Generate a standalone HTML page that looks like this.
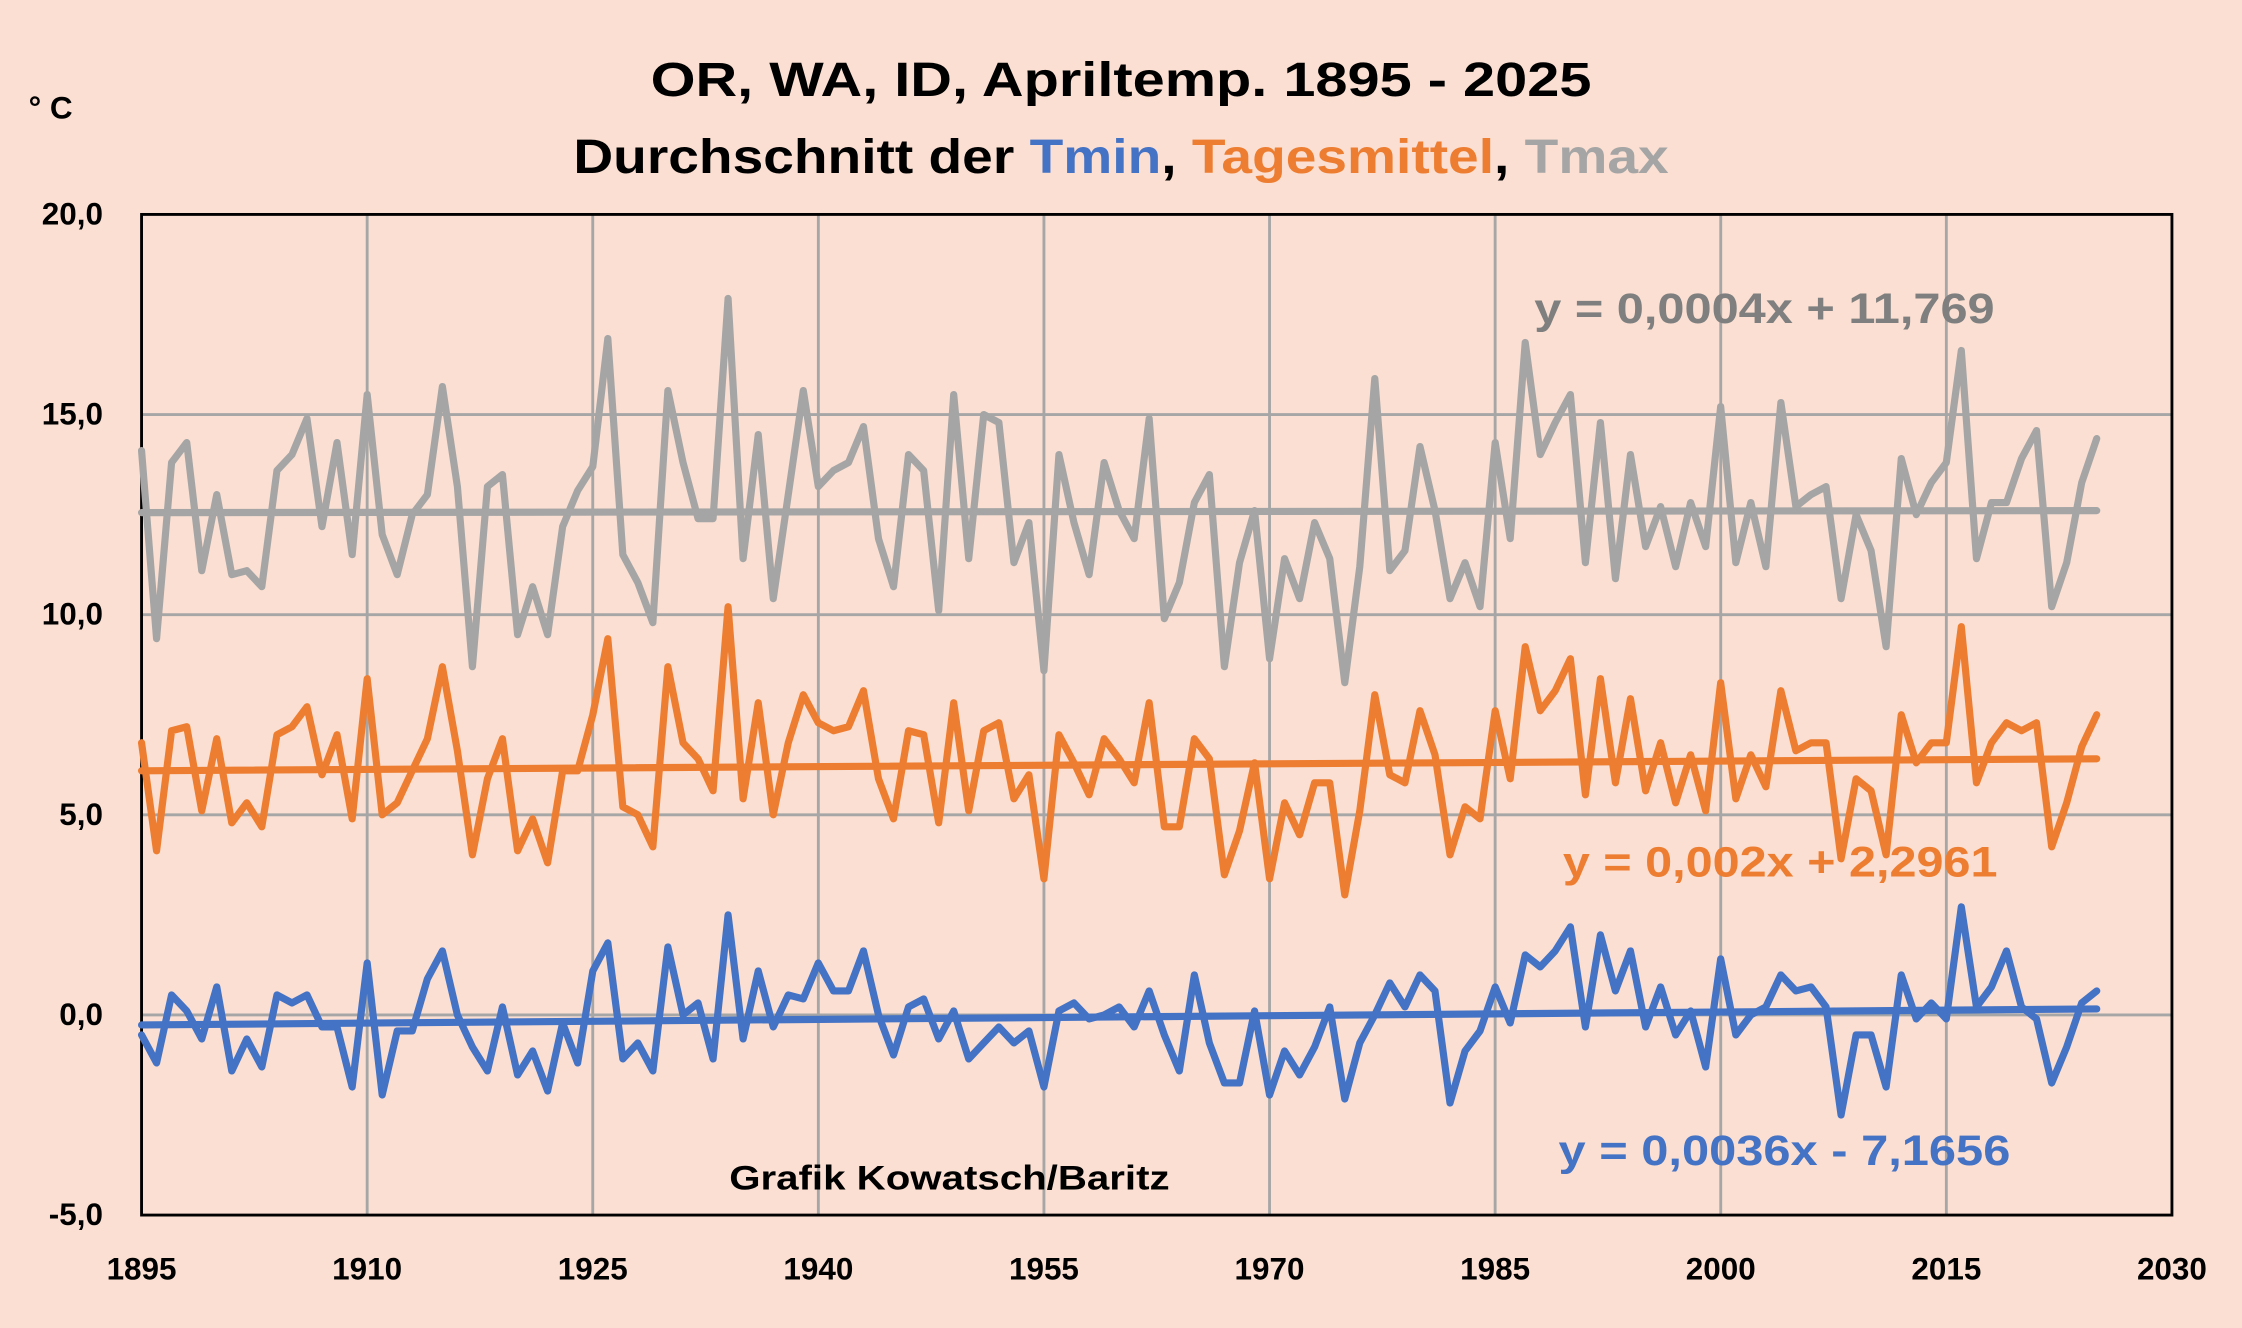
<!DOCTYPE html>
<html><head><meta charset="utf-8"><style>
html,body{margin:0;padding:0;background:#fadfd2;}
svg{display:block;font-family:"Liberation Sans",sans-serif;font-weight:bold;}
</style></head><body>
<svg id="s" width="2242" height="1328" viewBox="0 0 1568 929" preserveAspectRatio="none" xmlns="http://www.w3.org/2000/svg">
<rect x="0" y="0" width="1568" height="929" fill="#fadfd2"/>
<g id="grid" stroke="#a6a6a6" stroke-width="2"></g>
<rect x="99" y="150" width="1420" height="700" fill="none" stroke="#000" stroke-width="2"/>
<g id="ser" fill="none" stroke-linejoin="round" stroke-linecap="round"></g>
<g id="lab" font-size="22" fill="#000"></g>
<text x="455" y="67" font-size="34" textLength="658" lengthAdjust="spacingAndGlyphs">OR, WA, ID, Apriltemp.  1895 - 2025</text>
<text x="401" y="121" font-size="34" textLength="766" lengthAdjust="spacingAndGlyphs">Durchschnitt der <tspan fill="#4472c4">Tmin</tspan>, <tspan fill="#ed7d31">Tagesmittel</tspan>, <tspan fill="#a5a5a5">Tmax</tspan></text>
<text x="20" y="83" font-size="22">° C</text>
<text x="1073" y="226" font-size="30" fill="#7f7f7f" textLength="322" lengthAdjust="spacingAndGlyphs">y = 0,0004x + 11,769</text>
<text x="1093" y="613" font-size="30" fill="#ed7d31" textLength="304" lengthAdjust="spacingAndGlyphs">y = 0,002x + 2,2961</text>
<text x="1090" y="815" font-size="30" fill="#4472c4" textLength="316" lengthAdjust="spacingAndGlyphs">y = 0,0036x - 7,1656</text>
<text x="510" y="832" font-size="24" textLength="308" lengthAdjust="spacingAndGlyphs">Grafik Kowatsch/Baritz</text>
</svg>
<script>
var NS="http://www.w3.org/2000/svg";
function X(yr){return 99+(yr-1895)*1420/135;}
function Y(v){return 710-v*28;}
function el(p,t,a,txt){var e=document.createElementNS(NS,t);for(var k in a)e.setAttribute(k,a[k]);if(txt!=null)e.textContent=txt;document.getElementById(p).appendChild(e);return e;}
for(var v=-5;v<=20;v+=5){var y=Y(v);if(v>-5&&v<20)el("grid","line",{x1:99,x2:1519,y1:y,y2:y});
el("lab","text",{x:72,y:y+7,"text-anchor":"end"},(v<0?"-":"")+Math.abs(v)+",0");}
for(var yr=1895;yr<=2030;yr+=15){var x=X(yr);if(yr>1895&&yr<2030)el("grid","line",{x1:x,x2:x,y1:150,y2:850});
el("lab","text",{x:x,y:895,"text-anchor":"middle"},yr);}
var tmax=[14.1,9.4,13.8,14.3,11.1,13.0,11.0,11.1,10.7,13.6,14.0,14.9,12.2,14.3,11.5,15.5,12.0,11.0,12.5,13.0,15.7,13.2,8.7,13.2,13.5,9.5,10.7,9.5,12.2,13.1,13.7,16.9,11.5,10.8,9.8,15.6,13.8,12.4,12.4,17.9,11.4,14.5,10.4,13.0,15.6,13.2,13.6,13.8,14.7,11.9,10.7,14.0,13.6,10.1,15.5,11.4,15.0,14.8,11.3,12.3,8.6,14.0,12.3,11.0,13.8,12.6,11.9,14.9,9.9,10.8,12.8,13.5,8.7,11.3,12.6,8.9,11.4,10.4,12.3,11.4,8.3,11.2,15.9,11.1,11.6,14.2,12.6,10.4,11.3,10.2,14.3,11.9,16.8,14.0,14.8,15.5,11.3,14.8,10.9,14.0,11.7,12.7,11.2,12.8,11.7,15.2,11.3,12.8,11.2,15.3,12.7,13.0,13.2,10.4,12.5,11.6,9.2,13.9,12.5,13.3,13.8,16.6,11.4,12.8,12.8,13.9,14.6,10.2,11.3,13.3,14.4];
var tmean=[6.8,4.1,7.1,7.2,5.1,6.9,4.8,5.3,4.7,7.0,7.2,7.7,6.0,7.0,4.9,8.4,5.0,5.3,6.1,6.9,8.7,6.6,4.0,5.9,6.9,4.1,4.9,3.8,6.1,6.1,7.5,9.4,5.2,5.0,4.2,8.7,6.8,6.4,5.6,10.2,5.4,7.8,5.0,6.8,8.0,7.3,7.1,7.2,8.1,5.9,4.9,7.1,7.0,4.8,7.8,5.1,7.1,7.3,5.4,6.0,3.4,7.0,6.3,5.5,6.9,6.4,5.8,7.8,4.7,4.7,6.9,6.4,3.5,4.6,6.3,3.4,5.3,4.5,5.8,5.8,3.0,5.1,8.0,6.0,5.8,7.6,6.5,4.0,5.2,4.9,7.6,5.9,9.2,7.6,8.1,8.9,5.5,8.4,5.8,7.9,5.6,6.8,5.3,6.5,5.1,8.3,5.4,6.5,5.7,8.1,6.6,6.8,6.8,3.9,5.9,5.6,4.0,7.5,6.3,6.8,6.8,9.7,5.8,6.8,7.3,7.1,7.3,4.2,5.3,6.7,7.5];
var tmin=[-0.5,-1.2,0.5,0.1,-0.6,0.7,-1.4,-0.6,-1.3,0.5,0.3,0.5,-0.3,-0.3,-1.8,1.3,-2.0,-0.4,-0.4,0.9,1.6,0.0,-0.8,-1.4,0.2,-1.5,-0.9,-1.9,-0.2,-1.2,1.1,1.8,-1.1,-0.7,-1.4,1.7,0.0,0.3,-1.1,2.5,-0.6,1.1,-0.3,0.5,0.4,1.3,0.6,0.6,1.6,0.0,-1.0,0.2,0.4,-0.6,0.1,-1.1,-0.7,-0.3,-0.7,-0.4,-1.8,0.1,0.3,-0.1,0.0,0.2,-0.3,0.6,-0.5,-1.4,1.0,-0.7,-1.7,-1.7,0.1,-2.0,-0.9,-1.5,-0.8,0.2,-2.1,-0.7,0.0,0.8,0.2,1.0,0.6,-2.2,-0.9,-0.4,0.7,-0.2,1.5,1.2,1.6,2.2,-0.3,2.0,0.6,1.6,-0.3,0.7,-0.5,0.1,-1.3,1.4,-0.5,0.0,0.2,1.0,0.6,0.7,0.2,-2.5,-0.5,-0.5,-1.8,1.0,-0.1,0.3,-0.1,2.7,0.2,0.7,1.6,0.2,-0.1,-1.7,-0.8,0.3,0.6];
function line(d,c){var p=d.map(function(v,i){return X(1895+i).toFixed(1)+","+Y(v).toFixed(1);}).join(" ");el("ser","polyline",{points:p,stroke:c,"stroke-width":5});}
function trend(a,b,c){el("ser","line",{x1:X(1895),y1:Y(a),x2:X(2025),y2:Y(b),stroke:c,"stroke-width":5});}
line(tmax,"#a5a5a5");trend(12.55,12.6,"#a5a5a5");
line(tmean,"#ed7d31");trend(6.1,6.4,"#ed7d31");
line(tmin,"#4472c4");trend(-0.25,0.15,"#4472c4");
</script>
</body></html>
